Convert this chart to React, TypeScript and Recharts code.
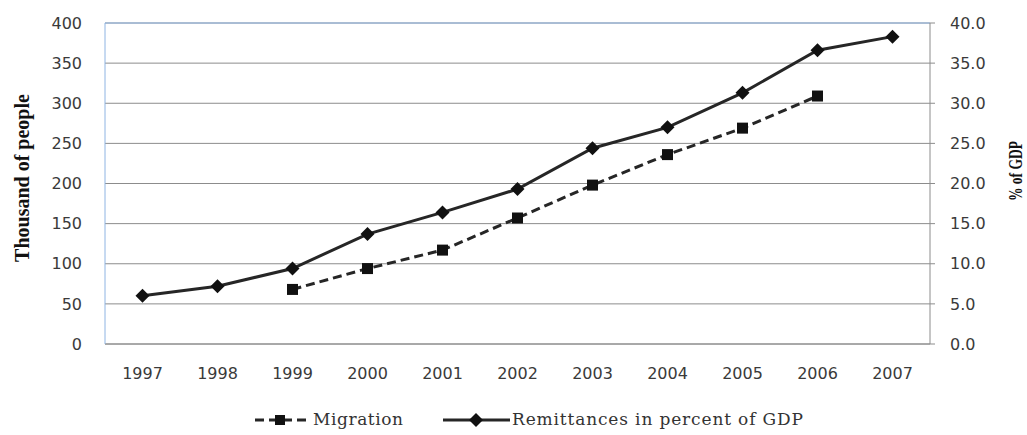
import React from 'react';
import { LineChart, Line, XAxis, YAxis, CartesianGrid, Legend, ReferenceLine } from 'recharts';

const years = ['1997', '1998', '1999', '2000', '2001', '2002', '2003', '2004', '2005', '2006', '2007'];
const migration: (number | null)[] = [null, null, 68, 94, 117, 157, 198, 236, 269, 309, null];
const remittances: number[] = [6.0, 7.2, 9.4, 13.7, 16.4, 19.3, 24.4, 27.0, 31.3, 36.6, 38.3];
const leftTicks = [0, 50, 100, 150, 200, 250, 300, 350, 400];
const rightTicks = [0, 5, 10, 15, 20, 25, 30, 35, 40];

const data = years.map((year, i) => ({ year, migration: migration[i], remittances: remittances[i] }));

const LINE = '#262626';
const MARK = '#111111';
const TICK_FONT = { fontSize: 16, fontFamily: 'DejaVu Sans', fill: '#3a3a3a' };

const SquareDot = (props: any) => {
  const { cx, cy, value } = props;
  if (value == null || cx == null || cy == null) return null;
  return <rect x={cx - 5.5} y={cy - 5.5} width={11} height={11} fill={MARK} />;
};

const DiamondDot = (props: any) => {
  const { cx, cy, value } = props;
  if (value == null || cx == null || cy == null) return null;
  return <polygon points={`${cx},${cy - 7} ${cx + 7},${cy} ${cx},${cy + 7} ${cx - 7},${cy}`} fill={MARK} />;
};

const LegendContent = () => (
  <div style={{ position: 'relative', height: 30, width: 1027 }}>
    <svg width={1027} height={30} style={{ position: 'absolute', left: 0, top: 0 }}>
      <line x1={255} y1={15} x2={308} y2={15} stroke={LINE} strokeWidth={3} strokeDasharray="9 5" />
      <rect x={275} y={10} width={10} height={10} fill={MARK} />
      <line x1={443} y1={15} x2={510} y2={15} stroke={LINE} strokeWidth={3} />
      <polygon points="476,8 483,15 476,22 469,15" fill={MARK} />
      <text x={313} y={20} fontFamily="DejaVu Serif" fontSize={17} fill="#333" textLength={90} lengthAdjust="spacing">Migration</text>
      <text x={512} y={20} fontFamily="DejaVu Serif" fontSize={17} fill="#333" textLength={291} lengthAdjust="spacing">Remittances in percent of GDP</text>
    </svg>
  </div>
);

const LeftTitle = () => (
  <text x={29} y={178} transform="rotate(-90 29 178)" textAnchor="middle" fontFamily="Liberation Serif" fontWeight="bold" fontSize={20} fill="#111">
    Thousand of people
  </text>
);

const RightTitle = () => (
  <text x={1022} y={171} transform="rotate(-90 1022 171)" textAnchor="middle" fontFamily="Liberation Serif" fontWeight="bold" fontSize={18} fill="#111" textLength={60} lengthAdjust="spacingAndGlyphs">
    % of GDP
  </text>
);

export default function App() {
  return (
    <div>
      <style>{`body{margin:0;}`}</style>
      <LineChart width={1027} height={435} data={data} margin={{ top: 23, right: 0, bottom: 0, left: 0 }}>
        <CartesianGrid vertical={false} stroke="#8c8c8c" yAxisId="left" />
        <XAxis
          dataKey="year"
          padding={{ left: 37.5, right: 37.5 }}
          axisLine={{ stroke: '#8c8c8c' }}
          tickLine={false}
          tickSize={0}
          tickMargin={24}
          height={61}
          tick={TICK_FONT}
          interval={0}
        />
        <YAxis
          yAxisId="left"
          domain={[0, 400]}
          ticks={leftTicks}
          width={105}
          axisLine={{ stroke: '#8EB4E3' }}
          tickLine={false}
          tickSize={0}
          tickMargin={23}
          tick={TICK_FONT}
          label={<LeftTitle />}
        />
        <YAxis
          yAxisId="right"
          orientation="right"
          domain={[0, 40]}
          ticks={rightTicks}
          tickFormatter={(v: number) => v.toFixed(1)}
          width={97}
          axisLine={{ stroke: '#8c8c8c' }}
          tickLine={{ stroke: '#8c8c8c' }}
          tickSize={5}
          tickMargin={15}
          tick={{ ...TICK_FONT, textAnchor: 'start' }}
          label={<RightTitle />}
        />
        <ReferenceLine yAxisId="left" y={400} stroke="#8EB4E3" />
        <Legend verticalAlign="bottom" align="left" content={<LegendContent />} wrapperStyle={{ left: 0, width: 1027 }} />
        <Line
          yAxisId="left"
          type="linear"
          dataKey="migration"
          stroke={LINE}
          strokeWidth={3}
          strokeDasharray="9 5"
          dot={<SquareDot />}
          activeDot={false}
          connectNulls={false}
          isAnimationActive={false}
        />
        <Line
          yAxisId="right"
          type="linear"
          dataKey="remittances"
          stroke={LINE}
          strokeWidth={3}
          dot={<DiamondDot />}
          activeDot={false}
          isAnimationActive={false}
        />
      </LineChart>
    </div>
  );
}
